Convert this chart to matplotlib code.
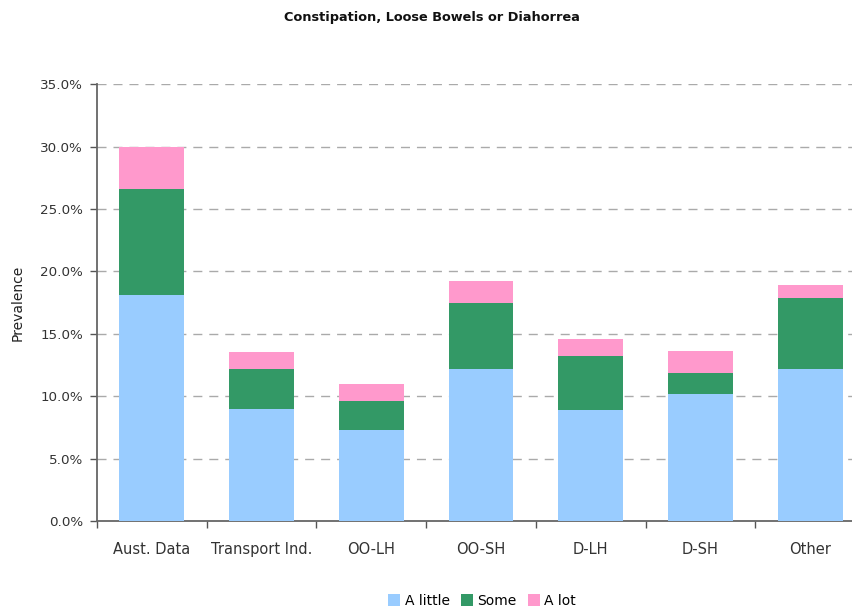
import matplotlib
matplotlib.use("Agg")
import matplotlib.pyplot as plt
import numpy as np
from matplotlib.patches import Patch

categories = ["Aust. Data", "Transport Ind.", "OO-LH", "OO-SH", "D-LH", "D-SH", "Other"]
a_little = [18.1, 9.0, 7.3, 12.2, 8.9, 10.2, 12.2]
some = [8.5, 3.2, 2.3, 5.3, 4.3, 1.7, 5.7]
a_lot = [3.4, 1.35, 1.4, 1.7, 1.4, 1.7, 1.0]
series_names = ["A little", "Some", "A lot"]
colors = ["#99CCFF", "#339966", "#FF99CC"]
yticks = [0, 5, 10, 15, 20, 25, 30, 35]
ytick_labels = ["0.0%", "5.0%", "10.0%", "15.0%", "20.0%", "25.0%", "30.0%", "35.0%"]

plt.rcParams['font.family'] = ['DejaVu Sans']
W, H = 853, 612
fig = plt.figure(figsize=(W / 100, H / 100), dpi=100)
left, right, bottom, top = 97, 865, 521, 84.3
ax = fig.add_axes([left / W, 1 - bottom / H, (right - left) / W, (bottom - top) / H])

x = np.arange(len(categories))
bw = 0.59
b1 = np.array(a_little)
b2 = b1 + np.array(some)
ax.bar(x, a_little, width=bw, color=colors[0], zorder=3)
ax.bar(x, some, width=bw, bottom=b1, color=colors[1], zorder=3)
ax.bar(x, a_lot, width=bw, bottom=b2, color=colors[2], zorder=3)

ax.set_xlim(-0.5, len(categories) - 0.5)
ax.set_ylim(0, 35)
ax.set_yticks(yticks)
ax.set_yticklabels(ytick_labels)
ax.set_xticks(np.arange(len(categories) + 1) - 0.5)
ax.set_xticklabels([])
ax.set_xticks(x, minor=True)
ax.set_xticklabels(categories, minor=True)
ax.tick_params(axis='x', which='minor', length=0, pad=15, labelsize=10.5, labelcolor='#333333')
ax.tick_params(axis='x', which='major', length=5, width=1, color='#555555', direction='out')
ax.tick_params(axis='y', length=5, width=1, color='#555555', direction='out', pad=5, labelsize=9.7, labelcolor='#333333')

for s in ['top', 'right']:
    ax.spines[s].set_visible(False)
for s in ['left', 'bottom']:
    ax.spines[s].set_color('#666666')
    ax.spines[s].set_linewidth(1.3)

for yv in yticks[1:]:
    ax.axhline(yv, color='#aaaaaa', lw=1, ls=(0, (6.5, 5)), zorder=1)

ax.set_ylabel("Prevalence", fontsize=10, color='#222222', labelpad=11)

fig.text(432 / W, 1 - 18 / H, "Constipation, Loose Bowels or Diahorrea", ha='center', va='center',
         fontsize=9.3, fontweight='bold', color='#111111')

handles = [Patch(facecolor=c, edgecolor='none') for c in colors]
fig.legend(handles, series_names, loc='center', bbox_to_anchor=(482 / W, 1 - 601 / H), ncol=3,
           frameon=False, fontsize=10, handlelength=0.9, handleheight=0.9, handletextpad=0.3,
           columnspacing=0.8, borderaxespad=0, borderpad=0)

fig.savefig("out.png", dpi=100)
